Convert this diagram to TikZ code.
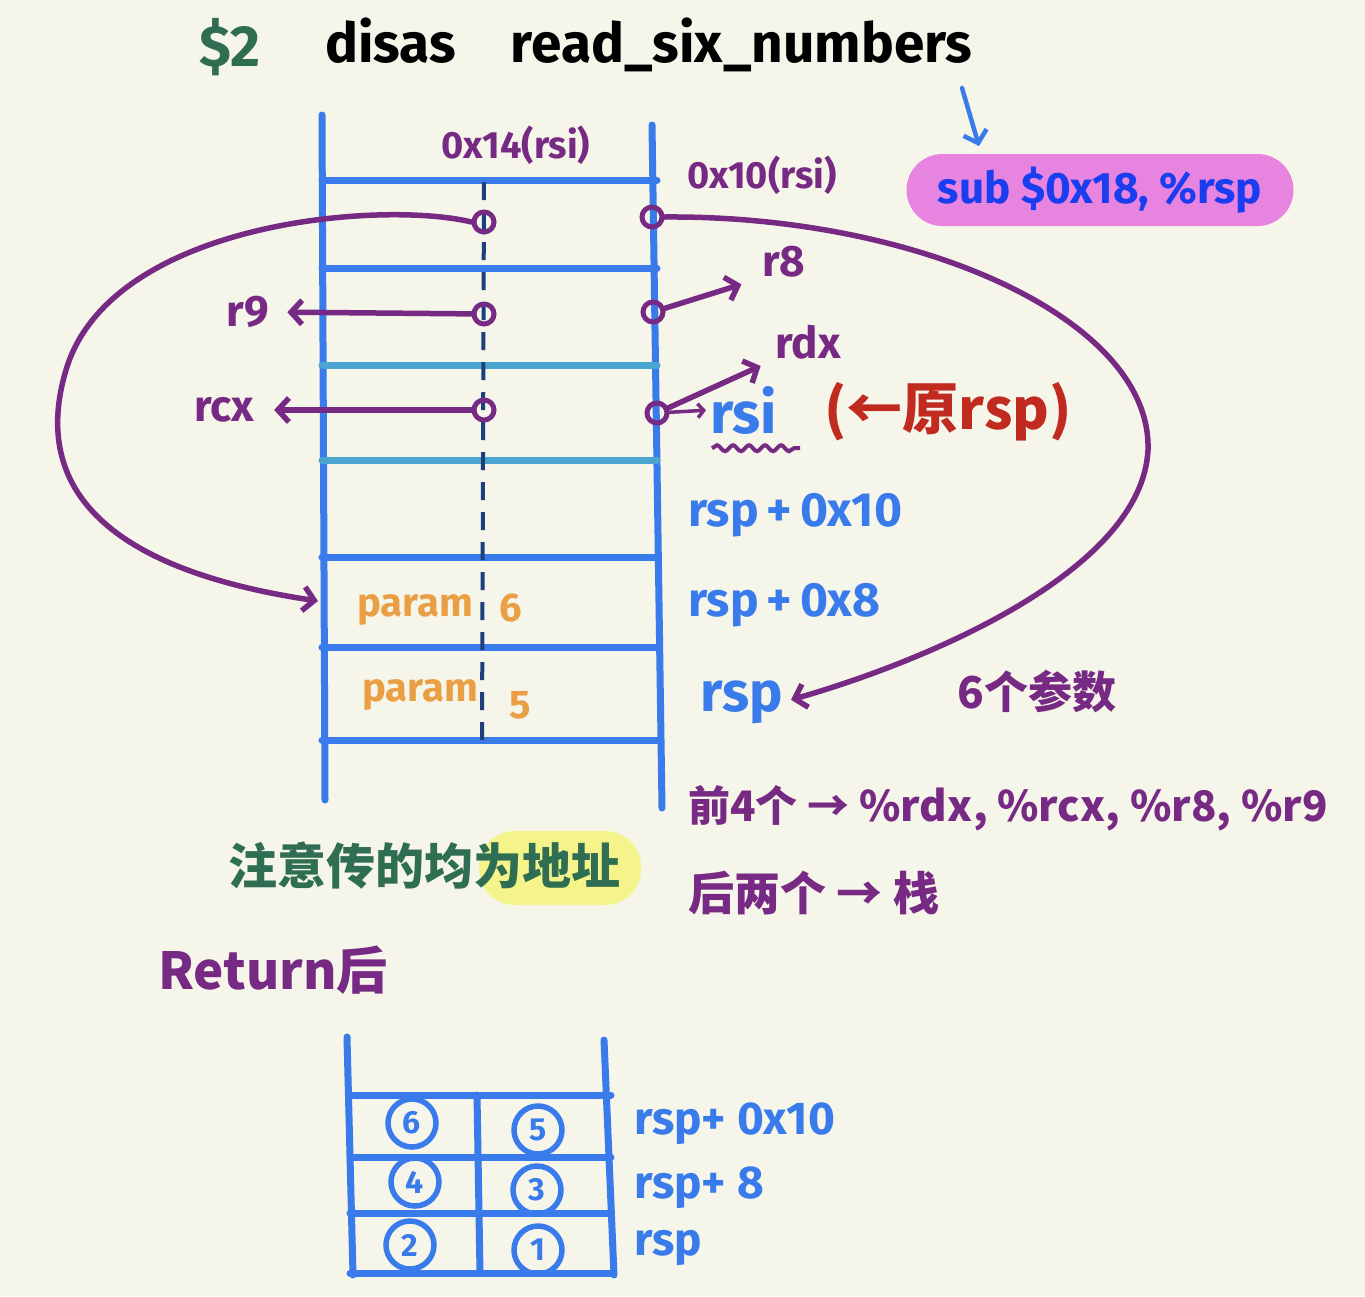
\documentclass[tikz,border=0pt]{standalone}
\usepackage{fontspec}
\setmainfont{Fira Sans}
\newfontfamily\cjk{Noto Sans CJK SC}
\usepackage{xcolor}
\usepackage{tikz}
\usetikzlibrary{decorations.pathmorphing, arrows.meta}

\definecolor{paper}{HTML}{F6F5EA}
\definecolor{stackblue}{HTML}{3A7BEB}
\definecolor{regpurple}{HTML}{772A84}
\definecolor{cellteal}{HTML}{4AA6D0}
\definecolor{midnavy}{HTML}{1D3F7C}
\definecolor{paramorange}{HTML}{EA9F45}
\definecolor{oldred}{HTML}{C12A1E}
\definecolor{notegreen}{HTML}{2F6E52}
\definecolor{pillpink}{HTML}{E784E0}
\definecolor{cmdblue}{HTML}{1B3DF0}
\definecolor{marker}{HTML}{F5F48A}

\newcommand{\hand}[1]{\fontsize{#1}{#1}\selectfont\bfseries}

\begin{document}
\begin{tikzpicture}[x=1pt, y=-1pt]
			\tikzstyle{every node}=[font=\hand{44}, inner sep=0pt];
			\tikzstyle{wall}=[stackblue, line width=7pt, line cap=round];
			\tikzstyle{link}=[regpurple, line width=5.5pt, line cap=round];
			\tikzstyle{barb}=[-{Straight Barb[length=11pt, width=24pt]}];
			\tikzstyle{ring}=[circle, draw=regpurple, line width=5pt, minimum size=20pt];
			\tikzstyle{slot}=[circle, draw=stackblue, text=stackblue, line width=5.5pt, minimum size=48pt, font=\hand{32}];
			
			%Paper
			\fill[paper] (0,0) rectangle (1365,1296);
			\useasboundingbox (0,0) rectangle (1365,1296);
			
			%Title
			\node[notegreen, font=\hand{58}] (dollar) at (230,47) {\$2};
			\node[anchor=west, font=\hand{55}] (cmd) at (325,45) {disas\quad read\_six\_numbers};
			\coordinate (tick) at (962,88);
			\node[fill=pillpink, rounded corners=36pt, minimum width=387pt, minimum height=72pt,
			      text=cmdblue, font=\hand{44}] (sub) at (1100,190) {sub \$0x18, \%rsp};
			\coordinate (subtop) at (979,146);
			\draw[stackblue, line width=4.5pt, line cap=round, barb] (tick) -- (subtop);
			
			%Stack
			\draw[wall] (322,115) -- (325,800);
			\draw[wall] (652,125) -- (662,808);
			\foreach \y in {180,268,557,647,740}
				\draw[wall] (322,\y) -- (657,\y);
			\foreach \y in {365,460}
				\draw[wall, cellteal] (322,\y) -- (657,\y);
			\draw[midnavy, line width=4pt, dash pattern=on 18pt off 12pt] (484,182) -- (482,740);
			\node[regpurple, font=\hand{38}] (off14) at (516,145) {0x14(rsi)};
			\node[regpurple, font=\hand{38}] (off10) at (762,175) {0x10(rsi)};
			
			%Addresses
			\node[ring] (top14) at (484,222) {};
			\node[ring] (top10) at (652,217) {};
			\node[ring] (mid14) at (484,314) {};
			\node[ring] (mid10) at (653,312) {};
			\node[ring] (low14) at (484,410) {};
			\node[ring] (low10) at (657,413) {};
			
			%Registers
			\node[regpurple] (lr9) at (248,312) {r9};
			\node[regpurple] (lrcx) at (224,410) {rcx};
			\node[regpurple] (lr8) at (784,262) {r8};
			\node[regpurple] (lrdx) at (808,342) {rdx};
			\node[stackblue, anchor=west, font=\hand{58}] (lrsi) at (710,410) {rsi};
			\node[oldred, anchor=west, font=\cjk\hand{56}] (orig) at (824,412) {(←原rsp)};
			\draw[link, barb] (mid14) -- (lr9.east) [shorten >=18pt];
			\draw[link, barb] (low14) -- (lrcx.east) [shorten >=20pt];
			\draw[link, barb] (mid10) -- (lr8.south west) [shorten >=22pt];
			\draw[link, barb] (low10) -- (lrdx.south west) [shorten >=16pt];
			\draw[link, line width=3.5pt, -{Straight Barb[length=6pt, width=14pt]}] (low10) -- (lrsi.west) [shorten >=4pt];
			\draw[regpurple, line width=4pt, decorate, decoration={snake, amplitude=3pt, segment length=16pt}]
				(lrsi.south west) ++(2,14) -- ++(88,0);
			
			%Params
			\node[paramorange, font=\hand{40}] (p6) at (415,610) {param};
			\node[paramorange, font=\hand{40}] (n6) at (511,608) {6};
			\node[paramorange, font=\hand{40}] (p5) at (420,695) {param};
			\node[paramorange, font=\hand{40}] (n5) at (520,705) {5};
			\node[stackblue, font=\hand{48}, anchor=west] (sp10) at (688,515) {rsp\,+\,0x10};
			\node[stackblue, font=\hand{48}, anchor=west] (sp8) at (688,605) {rsp\,+\,0x8};
			\node[stackblue, font=\hand{56}] (lrsp) at (742,702) {rsp};
			\node[regpurple, font=\cjk\hand{44}] (six) at (1037,692) {6个参数};
			\coordinate (in6) at (318,601);
			
			%Curves
			\draw[link, barb] (top14.west) .. controls (380,200) and (110,222) .. (66,370)
				.. controls (30,490) and (110,570) .. (in6);
			\draw[link, barb] (top10.east) .. controls (920,215) and (1152,320) .. (1148,450)
				.. controls (1142,570) and (930,660) .. (lrsp.east) [shorten >=8pt];
			
			%Notes
			\node[regpurple, anchor=west, font=\cjk\hand{42}] (first) at (688,808) {前4个 → \%rdx, \%rcx, \%r8, \%r9};
			\node[regpurple, anchor=west, font=\cjk\hand{46}] (rest) at (688,893) {后两个 → 栈};
			\node[fill=marker, rounded corners=36pt, minimum width=162pt, minimum height=74pt] (hl) at (560,868) {};
			\node[notegreen, anchor=west, font=\cjk\hand{49}] (note) at (228,866) {注意传的均为地址};
			\node[regpurple, anchor=west, font=\cjk\hand{51}] (ret) at (158,970) {Return后};
			
			%After return
			\draw[wall] (347,1037) -- (353,1275);
			\draw[wall] (604,1040) -- (614,1275);
			\foreach \y in {1095,1157,1213,1273}
				\draw[wall] (350,\y) -- (611,\y);
			\draw[wall] (477,1095) -- (480,1273);
			\node[slot] (s6) at (412,1123) {6};
			\node[slot] (s5) at (538,1130) {5};
			\node[slot] (s4) at (415,1182) {4};
			\node[slot] (s3) at (537,1190) {3};
			\node[slot] (s2) at (410,1245) {2};
			\node[slot] (s1) at (538,1250) {1};
			\node[stackblue, anchor=west, font=\hand{46}] (a10) at (634,1124) {rsp+ 0x10};
			\node[stackblue, anchor=west, font=\hand{46}] (a8) at (634,1188) {rsp+ 8};
			\node[stackblue, anchor=west, font=\hand{46}] (a0) at (634,1248) {rsp};
\end{tikzpicture}
\end{document}
